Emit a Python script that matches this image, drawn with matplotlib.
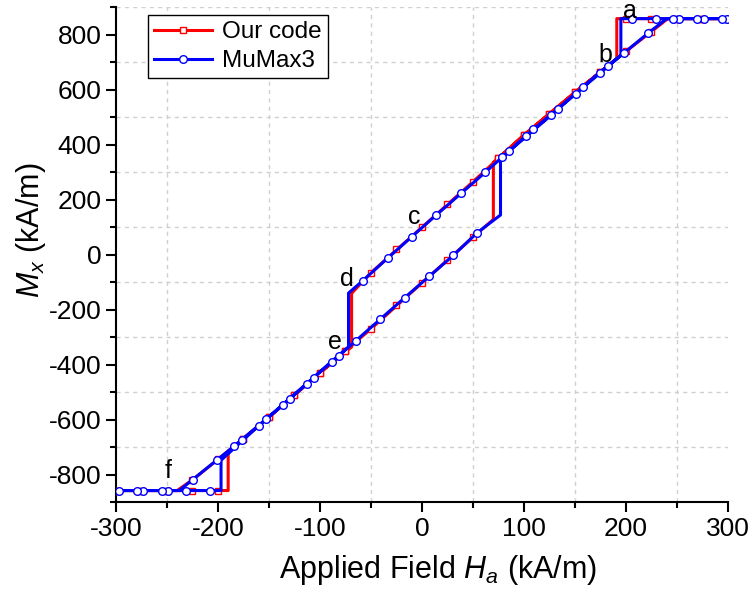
import matplotlib
matplotlib.use("Agg")
import matplotlib.pyplot as plt
from matplotlib.ticker import MultipleLocator
from matplotlib.lines import Line2D

plt.rcParams['font.family'] = ['Liberation Sans', 'DejaVu Sans']
plt.rcParams['mathtext.fontset'] = 'custom'
plt.rcParams['mathtext.rm'] = 'Liberation Sans'
plt.rcParams['mathtext.it'] = 'Liberation Sans:italic'

# --- data (kA/m) ---
# hysteresis path of "Our code": descending branch then ascending branch
ours_line_H = [300, 241, 225, 200, 150, 100, 50, 0, -50, -69, -69, -100, -150, -200, -225, -240, -300,
               -300, -190, -190, -150, -100, -50, 0, 50, 70, 70, 100, 150, 191, 191, 300]
ours_line_M = [858, 858, 811, 739, 590, 435, 265, 99, -66, -141, -336, -430, -591, -745, -819, -858, -858,
               -858, -858, -718, -591, -430, -270, -103, 63, 128, 335, 435, 590, 712, 858, 858]

# hysteresis path of MuMax3
mumax_line_H = [300, 240, 222, 198, 150, 102, 62, 14, -34, -58, -72, -72, -89, -136, -184, -225, -238, -300,
                -300, -197, -197, -160, -113, -65, -17, 31, 54, 77, 77, 86, 127, 174, 195, 195, 300]
mumax_line_M = [858, 858, 806, 733, 583, 432, 299, 144, -14, -95, -140, -336, -390, -546, -696, -819, -858, -858,
                -858, -858, -748, -622, -469, -314, -157, -2, 79, 144, 347, 378, 508, 662, 725, 858, 858]

# symbol positions (every n-th simulated point)
ours_H = [300, 275, 250, 225, 200, 175, 150, 125, 100, 75, 50, 25, 0, -25, -50,
          -75, -100, -125, -150, -175, -200, -225, -250, -275, -300,
          -300, -275, -250, -225, -200, -175, -150, -125, -100, -75, -50, -25, 0, 25, 50,
          75, 100, 125, 150, 175, 200, 225, 250, 275, 300]
ours_M = [858, 858, 858, 811, 739, 665, 590, 512, 435, 350, 265, 184, 99, 19, -66,
          -350, -430, -512, -591, -669, -745, -819, -858, -858, -858,
          -858, -858, -858, -858, -858, -669, -591, -512, -430, -350, -270, -185, -103, -20, 63,
          350, 435, 512, 590, 665, 858, 858, 858, 858, 858]

mumax_H = [299.3, 294.4, 276.5, 270, 252.3, 246.4, 229.1, 205.6,
           221.9, 198, 182, 174.5, 157.5, 150.7, 133.6, 126.5, 109, 101.6, 85.6, 78, 61.8, 37.9, 14, -9.8, -33.6, -57.5,
           54.2, 30.7, 6.9, -17, -40.9, -64.7, -81, -88.5, -105.6, -112.4, -129.4, -136.3, -153.3, -160.1, -176.8,
           -184.3, -200.7, -224.9,
           -207.8, -231.4, -248.8, -255.3, -273.3, -279.2, -296.8]
mumax_M = [858, 858, 858, 858, 858, 858, 858, 858,
           806, 733, 684, 662, 608, 583, 531, 508, 456, 432, 378, 356, 299, 223, 144, 63, -14, -95,
           79, -2, -78, -157, -236, -314, -369, -390, -447, -469, -524, -546, -599, -622, -673,
           -696, -748, -819,
           -858, -858, -858, -858, -858, -858, -858]

labels = ['a', 'b', 'c', 'd', 'e', 'f']
label_H = [204, 180, -8, -74, -85, -249]
label_M = [885, 727, 137, -89, -319, -788]

fig = plt.figure(figsize=(7.55, 5.9), dpi=100)
ax = fig.add_axes([0.1536, 0.149, 0.8106, 0.839])

ax.plot(ours_line_H, ours_line_M, color='red', lw=2.2, zorder=3)
ax.plot(ours_H, ours_M, ls='none', marker='s', ms=5, mfc='white', mec='red', mew=1.0, zorder=3)
ax.plot(mumax_line_H, mumax_line_M, color='blue', lw=2.2, zorder=4)
ax.plot(mumax_H, mumax_M, ls='none', marker='o', ms=5.5, mfc='white', mec='blue', mew=1.0, zorder=4)

for t, h, m in zip(labels, label_H, label_M):
    ax.text(h, m, t, fontsize=18, ha='center', va='center', zorder=5)

ax.set_xlim(-300, 300)
ax.set_ylim(-900, 900)
ax.xaxis.set_major_locator(MultipleLocator(100))
ax.xaxis.set_minor_locator(MultipleLocator(50))
ax.yaxis.set_major_locator(MultipleLocator(200))
ax.yaxis.set_minor_locator(MultipleLocator(100))
ax.tick_params(which='both', direction='out', width=1.5, labelsize=19)
ax.tick_params(which='major', length=7)
ax.tick_params(which='minor', length=4)
ax.set_xticklabels([f'{int(v)}' for v in ax.get_xticks()])
ax.set_yticklabels([f'{int(v)}' for v in ax.get_yticks()])

# grid sits on the in-between positions only
ax.grid(which='minor', color='#d0d0d0', ls=(0, (3, 3)), lw=1.0)
ax.grid(which='major', visible=False)
ax.set_axisbelow(True)

for s in ['top', 'right']:
    ax.spines[s].set_visible(False)
for s in ['left', 'bottom']:
    ax.spines[s].set_linewidth(1.5)

ax.set_xlabel('Applied Field $H_a$ (kA/m)', fontsize=22)
ax.set_ylabel('$M_x$ (kA/m)', fontsize=22)
ax.xaxis.set_label_coords(0.526, -0.102)
ax.yaxis.set_label_coords(-0.111, 0.55)

handles = [
    Line2D([], [], color='red', lw=2.2, marker='s', ms=5, mfc='white', mec='red', mew=1.0),
    Line2D([], [], color='blue', lw=2.2, marker='o', ms=5.5, mfc='white', mec='blue', mew=1.0),
]
leg = ax.legend(handles, ['Our code', 'MuMax3'], loc='upper left', bbox_to_anchor=(0.052, 0.984),
                borderaxespad=0, fontsize=17.5, fancybox=False, edgecolor='black', framealpha=1,
                handlelength=2.4, handletextpad=0.4, borderpad=0.25, labelspacing=0.3)
leg.get_frame().set_linewidth(1.0)

fig.savefig('out.png', dpi=100)
